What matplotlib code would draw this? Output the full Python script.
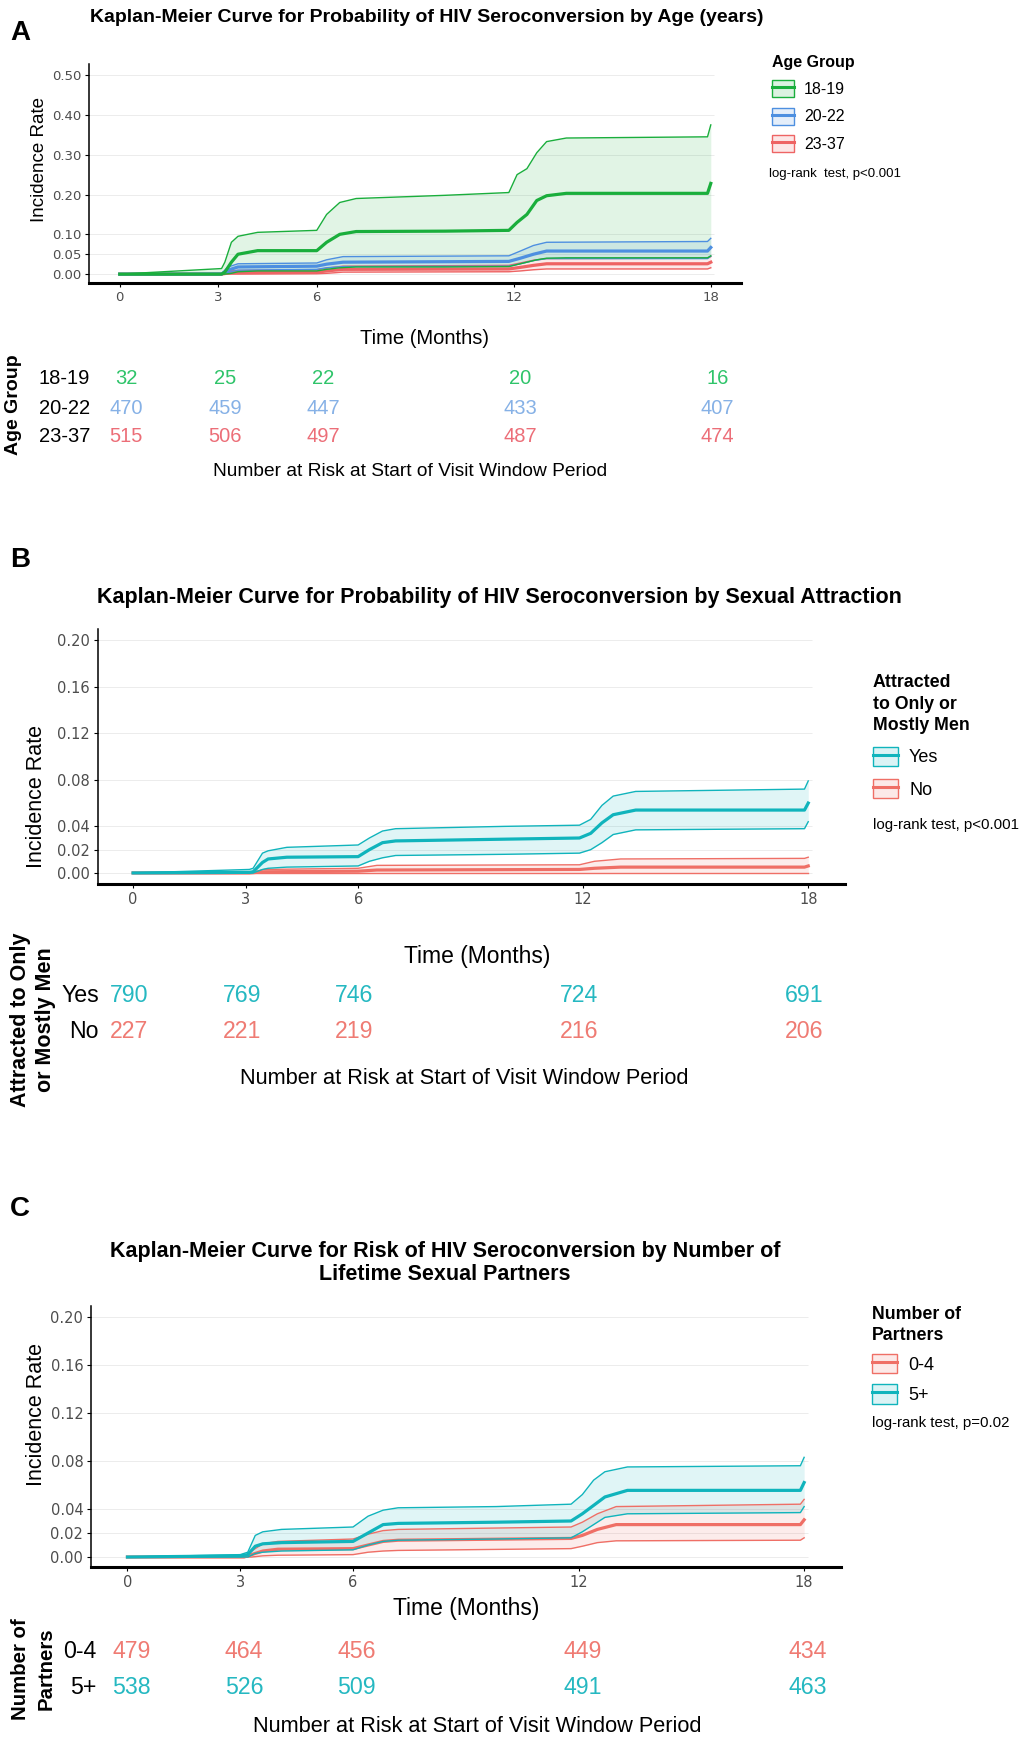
import matplotlib
matplotlib.use("Agg")
import matplotlib.pyplot as plt
import matplotlib.transforms as mtransforms
from matplotlib.patches import Patch
from matplotlib.lines import Line2D
from matplotlib.legend_handler import HandlerTuple

W, H = 1027, 1739

# ---------------- data ----------------
risk_times = [0, 3, 6, 12, 18]
xticks = [0, 3, 6, 12, 18]

# panel A: age group
a_groups = ["18-19", "20-22", "23-37"]
a_t_1819 = [0, 3.1, 3.2, 3.4, 3.6, 4.2, 6.0, 6.3, 6.7, 7.2, 9.9, 11.85, 12.1, 12.4, 12.7, 13.0, 13.6, 17.9, 18.0]
a_est_1819 = [0, 0, 0.005, 0.03, 0.05, 0.059, 0.059, 0.08, 0.10, 0.107, 0.108, 0.11, 0.13, 0.15, 0.185, 0.197, 0.203, 0.203, 0.228]
a_hi_1819 = [0, 0.014, 0.03, 0.08, 0.095, 0.105, 0.11, 0.15, 0.18, 0.19, 0.198, 0.205, 0.25, 0.265, 0.305, 0.333, 0.342, 0.345, 0.375]
a_lo_1819 = [0, 0, 0, 0.002, 0.006, 0.008, 0.008, 0.012, 0.016, 0.018, 0.018, 0.019, 0.024, 0.03, 0.036, 0.04, 0.041, 0.041, 0.046]

a_t_2022 = [0, 3.1, 3.3, 3.6, 6.0, 6.3, 6.8, 11.85, 12.2, 12.6, 13.0, 17.9, 18.0]
a_est_2022 = [0, 0, 0.01, 0.018, 0.02, 0.025, 0.03, 0.032, 0.04, 0.05, 0.058, 0.058, 0.067]
a_hi_2022 = [0, 0.002, 0.018, 0.026, 0.028, 0.036, 0.044, 0.046, 0.058, 0.072, 0.08, 0.082, 0.09]
a_lo_2022 = [0, 0, 0.004, 0.01, 0.012, 0.016, 0.019, 0.02, 0.026, 0.034, 0.039, 0.039, 0.045]

a_t_2337 = [0, 3.1, 3.4, 6.0, 6.3, 6.8, 11.85, 12.2, 12.6, 13.0, 17.9, 18.0]
a_est_2337 = [0, 0, 0.004, 0.005, 0.008, 0.012, 0.013, 0.017, 0.022, 0.026, 0.026, 0.03]
a_hi_2337 = [0, 0, 0.009, 0.011, 0.015, 0.02, 0.022, 0.028, 0.035, 0.039, 0.04, 0.044]
a_lo_2337 = [0, 0, 0, 0.001, 0.002, 0.005, 0.006, 0.008, 0.011, 0.013, 0.013, 0.016]

a_risk = [[32, 25, 22, 20, 16], [470, 459, 447, 433, 407], [515, 506, 497, 487, 474]]

# panel B: sexual attraction
b_groups = ["Yes", "No"]
b_t_yes = [0, 3.1, 3.2, 3.45, 3.6, 4.1, 6.0, 6.3, 6.65, 7.0, 9.9, 11.9, 12.2, 12.5, 12.8, 13.4, 17.9, 18.0]
b_est_yes = [0, 0.0005, 0.001, 0.009, 0.012, 0.0135, 0.014, 0.02, 0.026, 0.0275, 0.029, 0.03, 0.034, 0.043, 0.05, 0.054, 0.054, 0.06]
b_hi_yes = [0, 0.003, 0.004, 0.017, 0.019, 0.022, 0.024, 0.03, 0.036, 0.038, 0.04, 0.041, 0.046, 0.058, 0.066, 0.07, 0.072, 0.079]
b_lo_yes = [0, 0, 0, 0.003, 0.004, 0.005, 0.006, 0.01, 0.013, 0.015, 0.016, 0.017, 0.02, 0.026, 0.033, 0.037, 0.038, 0.044]

b_t_no = [0, 3.1, 3.5, 6.0, 6.5, 11.9, 12.3, 13.0, 17.9, 18.0]
b_est_no = [0, 0, 0.001, 0.0015, 0.0025, 0.003, 0.004, 0.005, 0.005, 0.006]
b_hi_no = [0, 0, 0.003, 0.004, 0.0065, 0.007, 0.01, 0.012, 0.0125, 0.0135]
b_lo_no = [0, 0, 0, 0, 0, 0, 0, 0, 0, 0]

b_risk = [[790, 769, 746, 724, 691], [227, 221, 219, 216, 206]]

# panel C: number of partners
c_groups = ["0-4", "5+"]
c_t_04 = [0, 3.1, 3.3, 3.6, 4.0, 6.0, 6.4, 6.8, 7.2, 11.8, 12.1, 12.5, 13.0, 17.9, 18.0]
c_est_04 = [0, 0, 0.002, 0.005, 0.0065, 0.007, 0.01, 0.013, 0.014, 0.0155, 0.018, 0.023, 0.027, 0.027, 0.031]
c_hi_04 = [0, 0, 0.005, 0.011, 0.013, 0.015, 0.019, 0.022, 0.023, 0.025, 0.029, 0.036, 0.042, 0.044, 0.048]
c_lo_04 = [0, 0, 0, 0.001, 0.0015, 0.002, 0.004, 0.005, 0.0055, 0.007, 0.009, 0.012, 0.0135, 0.014, 0.016]

c_t_5p = [0, 3.0, 3.2, 3.4, 3.6, 4.1, 6.0, 6.4, 6.8, 7.2, 9.8, 11.8, 12.1, 12.4, 12.7, 13.3, 17.9, 18.0]
c_est_5p = [0, 0.001, 0.002, 0.009, 0.011, 0.012, 0.013, 0.02, 0.027, 0.028, 0.029, 0.03, 0.036, 0.043, 0.05, 0.0555, 0.0555, 0.062]
c_hi_5p = [0, 0.002, 0.004, 0.018, 0.021, 0.023, 0.025, 0.034, 0.039, 0.041, 0.042, 0.044, 0.052, 0.064, 0.071, 0.075, 0.076, 0.083]
c_lo_5p = [0, 0, 0, 0.003, 0.004, 0.005, 0.006, 0.01, 0.013, 0.014, 0.015, 0.016, 0.021, 0.027, 0.033, 0.036, 0.037, 0.042]

c_risk = [[479, 464, 456, 449, 434], [538, 526, 509, 491, 463]]

# ---------------- style ----------------
FONT = ["Liberation Sans", "DejaVu Sans"]

GREEN, BLUE, RED = "#1aae3c", "#4d8fe0", "#ee6464"
TEAL, SALMON = "#10b4bc", "#ef6f66"
a_num_cols = ["#2fc46a", "#86b1e6", "#ec6e78"]
b_num_cols = ["#25b8c1", "#ef7b73"]
c_num_cols = ["#ef7b73", "#25b8c1"]


def fx(x):
    return x / W


def fy(y):
    return 1 - y / H


def add_axes_px(fig, left, top, right, bottom):
    return fig.add_axes([fx(left), fy(bottom), (right - left) / W, (bottom - top) / H])


def km_panel(ax, curves, ylim, xlim, yticks, tick_fs):
    for t, est, lo, hi, col in curves:
        ax.fill_between(t, lo, hi, color=col, alpha=0.13, linewidth=0)
        ax.plot(t, hi, color=col, lw=1.0)
        ax.plot(t, lo, color=col, lw=1.0)
        ax.plot(t, est, color=col, lw=2.3)
    ax.set_xlim(*xlim)
    ax.set_ylim(*ylim)
    ax.set_xticks(xticks)
    ax.set_yticks(yticks)
    ax.set_yticklabels([f"{v:.2f}" for v in yticks])
    # faint horizontal grid, running only over the time range
    ax.hlines(yticks, xlim[0], max(xticks) + 0.1, color="#ececec", lw=0.7, zorder=0)
    for s in ["top", "right"]:
        ax.spines[s].set_visible(False)
    ax.spines["left"].set_linewidth(1.1)
    ax.spines["bottom"].set_linewidth(2.2)
    ax.tick_params(axis="both", length=3, width=0.8, colors="black", pad=2.5,
                   labelcolor="#4d4d4d", labelsize=tick_fs)


def legend(ax, title, labels, cols, x, y, fs, tfs, spacing, title_ls=1.2):
    handles = []
    for c in cols:
        handles.append((Patch(facecolor=c, alpha=0.15, edgecolor="none"),
                        Patch(facecolor="none", edgecolor=c, linewidth=1.0),
                        Line2D([], [], color=c, lw=2.2)))
    leg = ax.legend(handles, labels, title=title, loc="upper left",
                    bbox_to_anchor=(fx(x), fy(y)), bbox_transform=fig.transFigure,
                    frameon=False, alignment="left", fontsize=fs,
                    title_fontproperties={"weight": "bold", "size": tfs, "family": FONT},
                    handler_map={tuple: HandlerTuple(ndivide=1, pad=0)},
                    handlelength=1.4, handleheight=1.25, handletextpad=0.6,
                    labelspacing=spacing, borderpad=0, borderaxespad=0)
    leg.get_title().set_linespacing(title_ls)
    for t in leg.get_texts():
        t.set_family(FONT)
    return leg


def risk_table(fig, ax, rows, names, cols, ys, label_right, fs, lab_fs, dx=0.0):
    tr = mtransforms.blended_transform_factory(ax.transData, fig.transFigure)
    for vals, name, col, y in zip(rows, names, cols, ys):
        for t, v in zip(risk_times, vals):
            fig.text(t + dx, fy(y), str(v), transform=tr, ha="center", va="center",
                     color=col, fontsize=fs, family=FONT)
        fig.text(fx(label_right), fy(y), name, ha="right", va="center",
                 fontsize=lab_fs, family=FONT, color="black")


fig = plt.figure(figsize=(W / 100, H / 100), dpi=100)

# ================= Panel A =================
fig.text(fx(10), fy(33), "A", fontsize=20, weight="bold", family=FONT, va="center")
fig.text(fx(427), fy(17), "Kaplan-Meier Curve for Probability of HIV Seroconversion by Age (years)",
         fontsize=14, weight="bold", family=FONT, ha="center", va="center")
axA = add_axes_px(fig, 88.7, 64, 741, 283)
km_panel(axA, [(a_t_2337, a_est_2337, a_lo_2337, a_hi_2337, RED),
               (a_t_2022, a_est_2022, a_lo_2022, a_hi_2022, BLUE),
               (a_t_1819, a_est_1819, a_lo_1819, a_hi_1819, GREEN)],
         (-0.0223, 0.528), (-0.946, 18.92), [0, 0.05, 0.1, 0.2, 0.3, 0.4, 0.5], 9.5)
fig.text(fx(39), fy(159), "Incidence Rate", rotation=90, fontsize=13.5, family=FONT,
         ha="center", va="center")
fig.text(fx(425), fy(339), "Time (Months)", fontsize=14.5, family=FONT, ha="center", va="center")
legA = legend(axA, "Age Group", a_groups, [GREEN, BLUE, RED], 772, 55, 11.5, 11.5, 0.65)
fig.text(fx(769), fy(174), "log-rank  test, p<0.001", fontsize=9.5, family=FONT, va="center")
risk_table(fig, axA, a_risk, a_groups, a_num_cols, [378, 408, 437], 90, 14.5, 14.5, dx=0.2)
fig.text(fx(14), fy(405), "Age Group", rotation=90, fontsize=14, weight="bold", family=FONT,
         ha="center", va="center")
fig.text(fx(410), fy(471), "Number at Risk at Start of Visit Window Period", fontsize=13.8,
         family=FONT, ha="center", va="center")

# ================= Panel B =================
fig.text(fx(10), fy(560), "B", fontsize=20, weight="bold", family=FONT, va="center")
fig.text(fx(499), fy(598), "Kaplan-Meier Curve for Probability of HIV Seroconversion by Sexual Attraction",
         fontsize=15.5, weight="bold", family=FONT, ha="center", va="center")
axB = add_axes_px(fig, 97.6, 629, 845, 884)
km_panel(axB, [(b_t_no, b_est_no, b_lo_no, b_hi_no, SALMON),
               (b_t_yes, b_est_yes, b_lo_yes, b_hi_yes, TEAL)],
         (-0.0095, 0.2095), (-0.946, 18.98), [0, 0.02, 0.04, 0.08, 0.12, 0.16, 0.2], 10.5)
fig.text(fx(36), fy(797), "Incidence Rate", rotation=90, fontsize=15.5, family=FONT,
         ha="center", va="center")
fig.text(fx(477), fy(957), "Time (Months)", fontsize=16.5, family=FONT, ha="center", va="center")
legB = legend(axB, "Attracted\nto Only or\nMostly Men", b_groups, [TEAL, SALMON], 873, 674, 13, 12.8,
              0.7, title_ls=1.35)
fig.text(fx(873), fy(825), "log-rank test, p<0.001", fontsize=10.8, family=FONT, va="center")
risk_table(fig, axB, b_risk, b_groups, b_num_cols, [996, 1031], 99, 16.7, 16.7, dx=-0.1)
fig.text(fx(21), fy(1020), "Attracted to Only", rotation=90, fontsize=15.5, weight="bold",
         family=FONT, ha="center", va="center")
fig.text(fx(45), fy(1020), "or Mostly Men", rotation=90, fontsize=15.5, weight="bold",
         family=FONT, ha="center", va="center")
fig.text(fx(464), fy(1079), "Number at Risk at Start of Visit Window Period", fontsize=15.7,
         family=FONT, ha="center", va="center")

# ================= Panel C =================
fig.text(fx(10), fy(1209), "C", fontsize=20, weight="bold", family=FONT, va="center")
fig.text(fx(445), fy(1263), "Kaplan-Meier Curve for Risk of HIV Seroconversion by Number of\nLifetime Sexual Partners",
         fontsize=15.5, weight="bold", family=FONT, ha="center", va="center", linespacing=1.15)
axC = add_axes_px(fig, 91, 1306, 840.6, 1567)
km_panel(axC, [(c_t_04, c_est_04, c_lo_04, c_hi_04, SALMON),
               (c_t_5p, c_est_5p, c_lo_5p, c_hi_5p, TEAL)],
         (-0.0083, 0.209), (-0.97, 18.97), [0, 0.02, 0.04, 0.08, 0.12, 0.16, 0.2], 10.5)
fig.text(fx(36), fy(1414), "Incidence Rate", rotation=90, fontsize=15.5, family=FONT,
         ha="center", va="center")
fig.text(fx(466), fy(1609), "Time (Months)", fontsize=16.5, family=FONT, ha="center", va="center")
legC = legend(axC, "Number of\nPartners", c_groups, [SALMON, TEAL], 872, 1306, 13, 12.8,
              0.58, title_ls=1.3)
fig.text(fx(872), fy(1423), "log-rank test, p=0.02", fontsize=10.8, family=FONT, va="center")
risk_table(fig, axC, c_risk, c_groups, c_num_cols, [1652, 1687], 96, 16.7, 16.7, dx=0.1)
fig.text(fx(21), fy(1669), "Number of", rotation=90, fontsize=14.7, weight="bold",
         family=FONT, ha="center", va="center")
fig.text(fx(46), fy(1669), "Partners", rotation=90, fontsize=14.7, weight="bold",
         family=FONT, ha="center", va="center")
fig.text(fx(477), fy(1727), "Number at Risk at Start of Visit Window Period", fontsize=15.7,
         family=FONT, ha="center", va="center")

fig.savefig("out.png", dpi=100)
